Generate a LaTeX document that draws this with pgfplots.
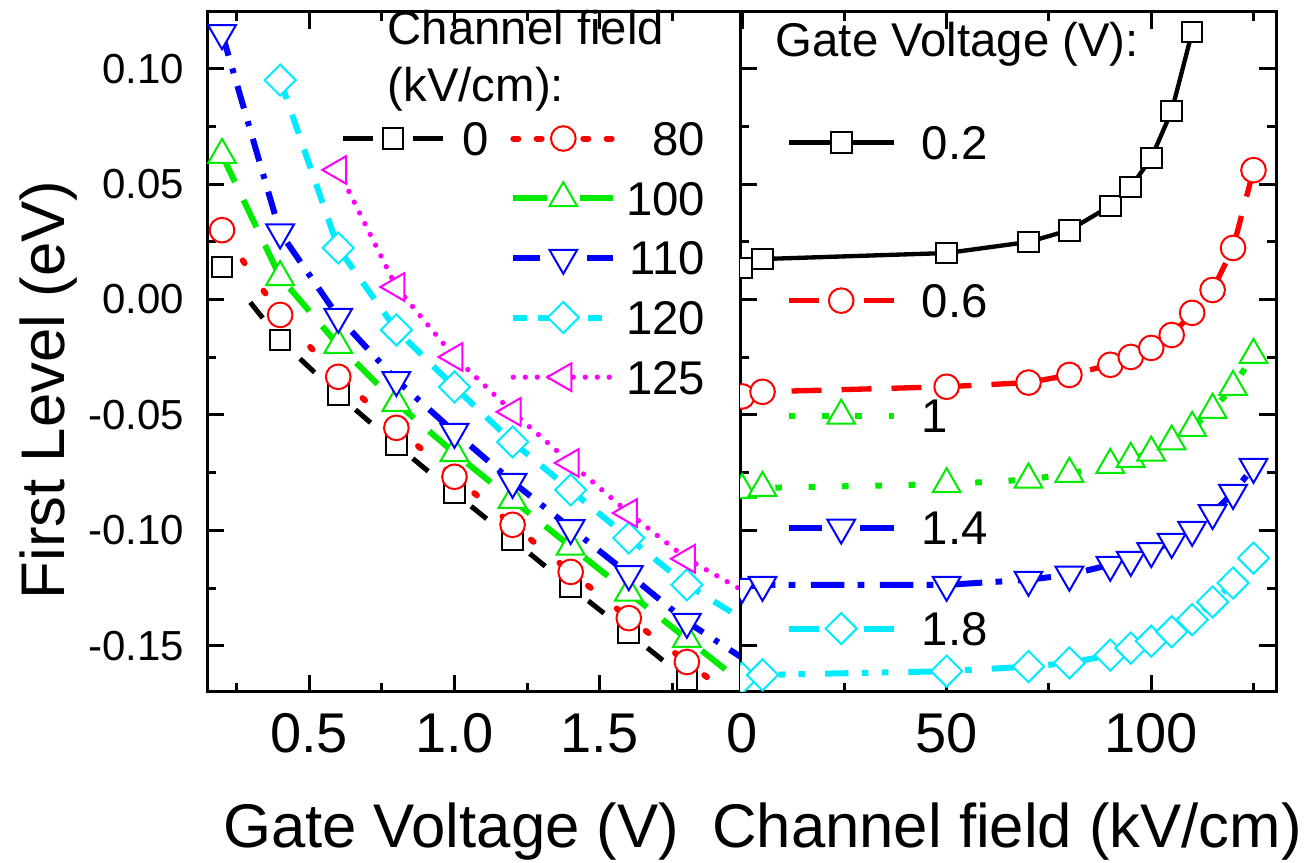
\documentclass[border=0pt]{standalone}
\usepackage{fontspec}
\setmainfont{Liberation Sans}
\usepackage{pgfplots}
\pgfplotsset{compat=1.18}

\definecolor{cred}{RGB}{255,0,0}
\definecolor{cgreen}{RGB}{0,235,0}
\definecolor{cblue}{RGB}{0,0,255}
\definecolor{ccyan}{RGB}{0,235,255}
\definecolor{cmag}{RGB}{255,0,255}

% struts that fix the legend row pitch
\newcommand{\ls}[2]{\rule[#1]{0pt}{#2}}
\newcommand{\lstrut}{\ls{-3.85pt}{17.9pt}}

\tikzset{
  mo/.style={mark options={solid, fill=white, line width=0.6pt, #1}}, mo/.default={},
  sq/.style={mark=square*, mark size=3.1pt, mo},
  ci/.style={mark=*, mark size=3.7pt, mo},
  tu/.style={mark=triangle*, mark size=4.8pt, mo},
  td/.style={mark=triangle*, mark size=4.8pt, mo={rotate=180}},
  tl/.style={mark=triangle*, mark size=4.8pt, mo={rotate=90}},
  di/.style={mark=square*, mark size=3.3pt, mo={rotate=45}},
  % left panel lines
  L0/.style={black, line width=1.5pt, dash pattern=on 6pt off 16.6pt, dash phase=9pt, sq},
  L80/.style={cred, line width=1.8pt, line cap=round, dash pattern=on 1pt off 10pt, ci},
  L100/.style={cgreen, line width=1.8pt, dash pattern=on 9pt off 6pt, tu},
  L110/.style={cblue, line width=1.8pt, dash pattern=on 7pt off 4pt on 1.5pt off 4pt, td},
  L120/.style={ccyan, line width=1.8pt, dash pattern=on 6pt off 5pt, di},
  L125/.style={cmag, line width=1.6pt, line cap=round, dash pattern=on 0pt off 3.6pt, tl},
  % right panel lines
  R02/.style={black, line width=1.3pt, sq},
  R06/.style={cred, line width=1.6pt, dash pattern=on 9pt off 6pt, ci},
  R10/.style={cgreen, line width=1.8pt, dash pattern=on 2pt off 8pt, tu},
  R14/.style={cblue, line width=1.8pt, dash pattern=on 10pt off 4pt on 2pt off 4.7pt, td},
  R18/.style={ccyan, line width=1.8pt, dash pattern=on 7pt off 4pt on 2pt off 4pt on 2pt off 6pt, di},
}

\pgfplotsset{
  panel/.style={
    scale only axis, anchor=south west, height=204pt,
    ymin=-0.17, ymax=0.1245,
    ytick={-0.15,-0.1,-0.05,0,0.05,0.1},
    minor ytick={-0.125,-0.075,-0.025,0.025,0.075},
    tick align=inside,
    major tick length=5pt, minor tick length=2.7pt,
    tick style={line width=0.9pt, black},
    axis line style={line width=0.9pt},
    clip marker paths=true,
    xticklabel style={font=\fontsize{16.8}{20}\selectfont, inner sep=0pt, yshift=-6.3pt},
    yticklabel style={font=\fontsize{12.6}{15}\selectfont, inner sep=0pt, xshift=-6.6pt},
    legend style={draw=none, fill=none, inner sep=0pt,
      font=\fontsize{14.2}{17}\selectfont,
      nodes={inner sep=0pt, text depth=}, row sep=0pt},
  },
}

\begin{document}
\begin{tikzpicture}
\path[use as bounding box] (0pt,0pt) rectangle (392.7pt,258.9pt);

% ---- left panel: level vs gate voltage ----
\begin{axis}[panel, at={(62.1pt,51.3pt)}, width=159.9pt,
  xmin=0.1483, xmax=1.9828,
  xtick={0.5,1,1.5}, xticklabels={0.5,1.0,1.5},
  minor xtick={0.25,0.75,1.25,1.75},
  ytick pos=left,
  yticklabels={-0.15,-0.10,-0.05,0.00,0.05,0.10},
  legend columns=2, legend cell align=right,
  legend style={at={(0.2495,0.8588)}, anchor=north west,
    /tikz/column 1/.style={column sep=5pt},
    /tikz/column 2/.style={column sep=6.5pt},
    /tikz/column 3/.style={column sep=3pt}},
  legend image code/.code={\draw[#1,mark repeat=2,mark phase=2] plot coordinates {(0pt,0pt) (15pt,0pt) (30pt,0pt)};},
]
\addplot[L0, forget plot] coordinates {(0.2,0.0141) (0.4,-0.0175) (0.6,-0.0413) (0.8,-0.0630) (1.0,-0.0838) (1.2,-0.1040) (1.4,-0.1245) (1.6,-0.1444) (1.8,-0.1647) (2.0,-0.1850)};
\addplot[L80, forget plot] coordinates {(0.2,0.0300) (0.4,-0.0067) (0.6,-0.0335) (0.8,-0.0556) (1.0,-0.0768) (1.2,-0.0976) (1.4,-0.1180) (1.6,-0.1380) (1.8,-0.1570) (2.0,-0.1760)};
\addplot[L100, forget plot] coordinates {(0.2,0.0626) (0.4,0.0097) (0.6,-0.0197) (0.8,-0.0448) (1.0,-0.0665) (1.2,-0.0868) (1.4,-0.1070) (1.6,-0.1270) (1.8,-0.1470) (2.0,-0.1670)};
\addplot[L110, forget plot] coordinates {(0.2,0.1153) (0.4,0.0290) (0.6,-0.0075) (0.8,-0.0349) (1.0,-0.0574) (1.2,-0.0790) (1.4,-0.0990) (1.6,-0.1190) (1.8,-0.1396) (2.0,-0.1560)};
\addplot[L120, forget plot] coordinates {(0.4,0.0950) (0.6,0.0223) (0.8,-0.0132) (1.0,-0.0379) (1.2,-0.0617) (1.4,-0.0825) (1.6,-0.1033) (1.8,-0.1236) (2.0,-0.1390)};
\addplot[L125, forget plot] coordinates {(0.6,0.0561) (0.8,0.0054) (1.0,-0.0249) (1.2,-0.0487) (1.4,-0.0708) (1.6,-0.0925) (1.8,-0.1123) (2.0,-0.1266)};

\addlegendimage{black, line width=1.5pt, dash pattern=on 9pt off 12pt, sq}
\addlegendentry{\lstrut 0}
\addlegendimage{cred, line width=1.8pt, line cap=round, dash pattern=on 1.5pt off 5.5pt, ci}
\addlegendentry{\lstrut 80}
\addlegendimage{empty legend}
\addlegendentry{\lstrut}
\addlegendimage{cgreen, line width=1.8pt, dash pattern=on 10pt off 10pt, tu}
\addlegendentry{\lstrut 100}
\addlegendimage{empty legend}
\addlegendentry{\lstrut}
\addlegendimage{cblue, line width=1.8pt, dash pattern=on 8pt off 14pt, td}
\addlegendentry{\lstrut 110}
\addlegendimage{empty legend}
\addlegendentry{\lstrut}
\addlegendimage{ccyan, line width=1.8pt, dash pattern=on 4pt off 3.5pt, di}
\addlegendentry{\lstrut 120}
\addlegendimage{empty legend}
\addlegendentry{\lstrut}
\addlegendimage{cmag, line width=1.6pt, line cap=round, dash pattern=on 0pt off 3.6pt, tl}
\addlegendentry{\lstrut 125}
\end{axis}

% ---- right panel: level vs channel field ----
\begin{axis}[panel, at={(222pt,51.3pt)}, width=160.8pt,
  xmin=-0.5, xmax=130.5,
  xtick={0,50,100}, xticklabels={0,50,100},
  minor xtick={25,75,125},
  yticklabels={},
  legend cell align=left,
  legend style={at={(0.084,0.9363)}, anchor=north west,
    /tikz/column 1/.style={column sep=7.5pt}},
  legend image code/.code={\draw[#1,mark repeat=2,mark phase=2] plot coordinates {(0pt,0pt) (15.75pt,0pt) (31.5pt,0pt)};},
]
\addplot[R02, forget plot] coordinates {(0,0.0136) (5,0.0175) (50,0.0201) (70,0.0249) (80,0.0300) (90,0.0405) (95,0.0487) (100,0.0612) (105,0.0816) (110,0.1158)};
\addplot[R06, forget plot] coordinates {(0,-0.0420) (5,-0.0400) (50,-0.0378) (70,-0.0360) (80,-0.0327) (90,-0.0283) (95,-0.0249) (100,-0.0210) (105,-0.0154) (110,-0.0058) (115,0.0041) (120,0.0223) (125,0.0560)};
\addplot[R10, forget plot] coordinates {(0,-0.0825) (5,-0.0816) (50,-0.0800) (70,-0.0780) (80,-0.0755) (90,-0.0716) (95,-0.0690) (100,-0.0663) (105,-0.0615) (110,-0.0556) (115,-0.0478) (120,-0.0379) (125,-0.0240)};
\addplot[R14, forget plot] coordinates {(0,-0.1245) (5,-0.1236) (50,-0.1236) (70,-0.1214) (80,-0.1192) (90,-0.1149) (95,-0.1128) (100,-0.1090) (105,-0.1050) (110,-0.0998) (115,-0.0925) (120,-0.0838) (125,-0.0725)};
\addplot[R18, forget plot] coordinates {(0,-0.1640) (5,-0.1626) (50,-0.1610) (70,-0.1590) (80,-0.1574) (90,-0.1540) (95,-0.1510) (100,-0.1480) (105,-0.1439) (110,-0.1387) (115,-0.1310) (120,-0.1228) (125,-0.1120)};

\addlegendimage{black, line width=1.3pt, sq}
\addlegendentry{\ls{-20.9pt}{52pt}0.2}
\addlegendimage{cred, line width=1.6pt, dash pattern=on 9pt off 13.5pt, ci}
\addlegendentry{\ls{-16.3pt}{42.8pt}0.6}
\addlegendimage{cgreen, line width=1.8pt, dash pattern=on 2pt off 8pt, tu}
\addlegendentry{\ls{-8pt}{26.2pt}1}
\addlegendimage{cblue, line width=1.8pt, dash pattern=on 10pt off 11.5pt, td}
\addlegendentry{\ls{-15.4pt}{41pt}1.4}
\addlegendimage{ccyan, line width=1.8pt, dash pattern=on 9pt off 13.5pt, di}
\addlegendentry{\ls{-4.7pt}{19.6pt}1.8}
\end{axis}

% ---- titles and axis labels ----
\node[anchor=base west, font=\fontsize{14.2}{17}\selectfont] at (112.8pt,245.4pt) {Channel field};
\node[anchor=base west, font=\fontsize{14.2}{17}\selectfont] at (112.8pt,228.3pt) {(kV/cm):};
\node[anchor=base west, font=\fontsize{14.2}{17}\selectfont] at (229.2pt,241.8pt) {Gate Voltage (V):};
\node[anchor=base, rotate=90, font=\fontsize{18.5}{22}\selectfont] at (19.2pt,141.9pt) {First Level (eV)};
\node[anchor=base, font=\fontsize{18.5}{22}\selectfont] at (135.3pt,4.5pt) {Gate Voltage (V)};
\node[anchor=base, font=\fontsize{18.5}{22}\selectfont] at (302.1pt,4.5pt) {Channel field (kV/cm)};
\end{tikzpicture}
\end{document}
